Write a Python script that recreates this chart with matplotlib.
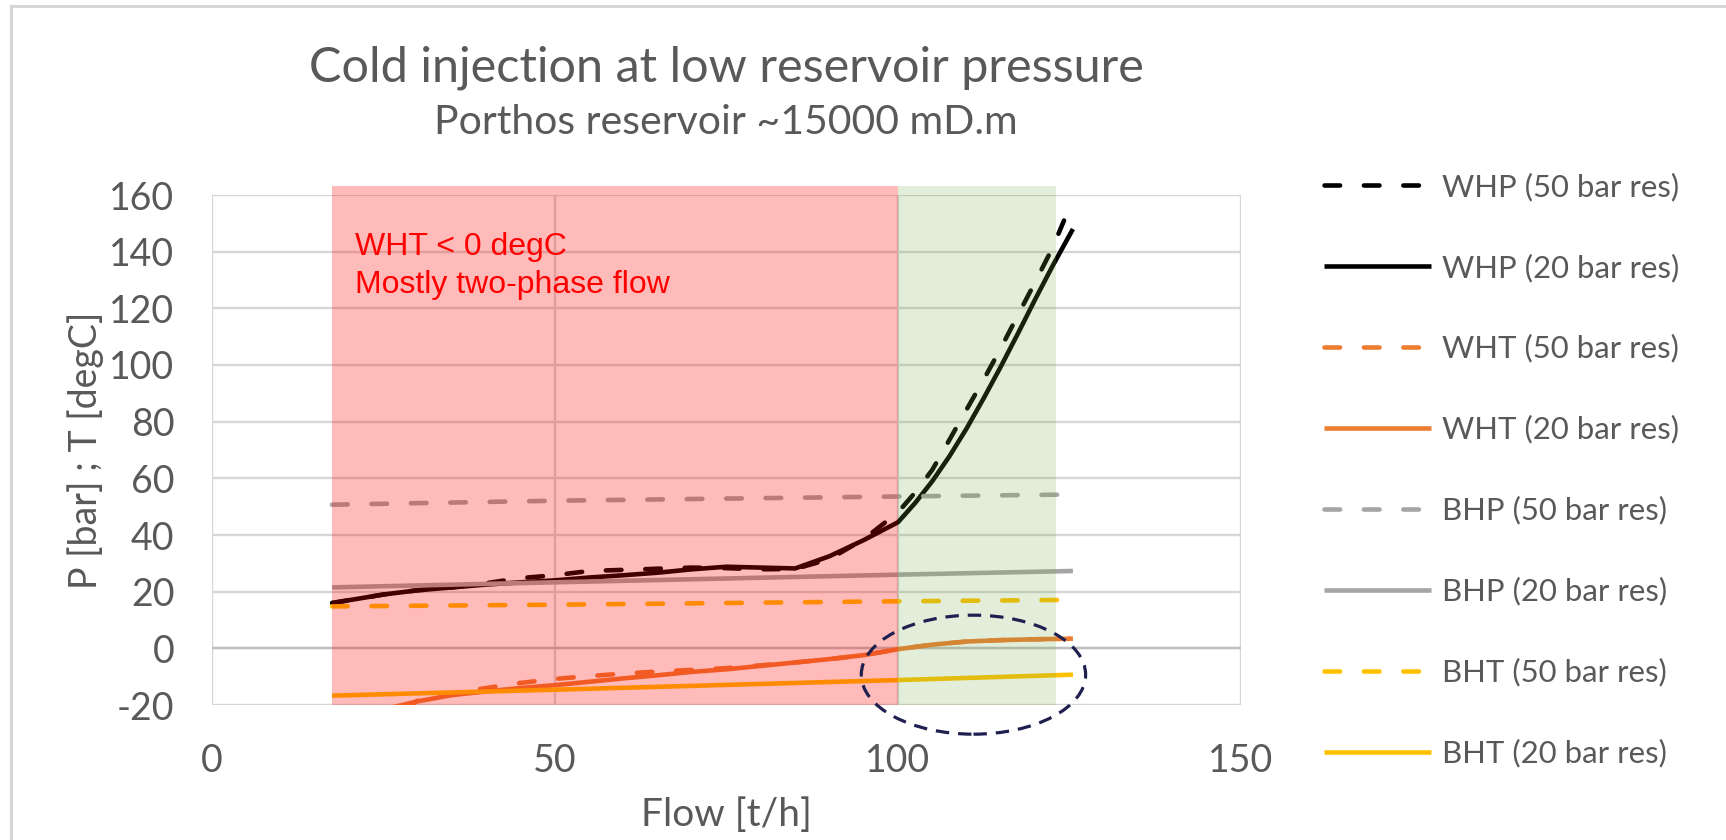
#!/usr/bin/env python3
# -*- coding: utf-8 -*-
"""Cold injection at low reservoir pressure: WHP/WHT/BHP/BHT vs flow."""
import matplotlib
matplotlib.use("Agg")
import matplotlib.pyplot as plt
from matplotlib.lines import Line2D
from matplotlib.patches import Ellipse

# --- data --------------------------------------------------------------
flow_whp = [17.5, 20, 25, 30, 35, 40, 45, 50, 55, 60, 65, 70, 75, 80, 85,
            90, 95, 100, 102.5, 105, 107.5, 110, 112.5, 115, 117.5, 120,
            122.5, 125.5]
whp_20 = [16, 17, 19, 20.5, 21.5, 22.5, 23.3, 24, 25, 25.8, 26.7, 27.9,
          28.8, 28.5, 28.2, 32.5, 38.2, 44.5, 51.3, 59.0, 67.8, 77.6, 88.3,
          99.5, 111.2, 123.2, 134.8, 148]
flow_whp50 = [17.5, 20, 25, 30, 35, 40, 45, 50, 55, 60, 65, 70, 75, 80, 85,
              90, 95, 100, 102.5, 105, 107.5, 110, 112.5, 115, 117.5, 120,
              122.5, 124.2]
whp_50 = [16, 17, 19, 20.5, 21.5, 23, 24.8, 25.8, 27.3, 27.7, 28.1, 28.5,
          28.3, 27.9, 28, 31.5, 38.5, 48, 55, 63, 73.6, 84.3, 94.9, 106,
          117.7, 129.3, 141.2, 151]

flow_wht20 = [26, 30, 35, 40, 45, 50, 55, 60, 65, 70, 75, 80, 85, 90, 95,
              100, 105, 110, 115, 120, 125.5]
wht_20 = [-21, -18.7, -16.5, -15.2, -14, -13, -11.8, -10.6, -9.5, -8.3,
          -7.4, -6.2, -5, -3.8, -2.4, -0.3, 1.3, 2.4, 2.9, 3.2, 3.4]
flow_wht50 = [28, 30, 35, 40, 45, 50, 55, 60, 65, 70, 75, 80, 85, 90, 95,
              100, 105, 110, 115, 120, 125]
wht_50 = [-21, -18.5, -15.8, -14, -12.2, -10.8, -9.8, -8.9, -8.2, -7.6, -7,
          -6, -5, -3.8, -2.4, -0.3, 1.3, 2.4, 2.9, 3.2, 3.4]

flow_bh = [17.5, 50, 100, 125.5]
bhp_50 = [50.7, 52.1, 53.6, 54.3]
bhp_20 = [21.5, 23.3, 26.0, 27.3]
bht_50 = [14.8, 15.4, 16.6, 17.1]
bht_20 = [-16.7, -14.6, -11.2, -9.3]

labels = ["WHP (50 bar res)", "WHP (20 bar res)", "WHT (50 bar res)",
          "WHT (20 bar res)", "BHP (50 bar res)", "BHP (20 bar res)",
          "BHT (50 bar res)", "BHT (20 bar res)"]

x_ticks = [0, 50, 100, 150]
y_ticks = [-20, 0, 20, 40, 60, 80, 100, 120, 140, 160]

two_phase_zone = (17.5, 100)
ok_zone = (100, 123)

# --- style ---------------------------------------------------------------
plt.rcParams["font.family"] = ["Lato", "DejaVu Sans"]
plt.rcParams["axes.unicode_minus"] = False
GREY_TXT = "#595959"
GRID = "#d6d6d6"
C_BLACK = "#000000"
C_ORANGE = "#ed7d31"
C_GREY = "#a5a5a5"
C_GOLD = "#ffc000"
LW = 3.3
DASH = (0, (3.4, 5.2))

fig = plt.figure(figsize=(17.26, 8.40), dpi=100)
axe = fig.add_axes([212 / 1726, 1 - 705 / 840, 1029 / 1726, 510 / 840])

series = [
    (flow_whp50, whp_50, C_BLACK, DASH),
    (flow_whp, whp_20, C_BLACK, "-"),
    (flow_wht50, wht_50, C_ORANGE, DASH),
    (flow_wht20, wht_20, C_ORANGE, "-"),
    (flow_bh, bhp_50, C_GREY, DASH),
    (flow_bh, bhp_20, C_GREY, "-"),
    (flow_bh, bht_50, C_GOLD, DASH),
    (flow_bh, bht_20, C_GOLD, "-"),
]
handles = []
for (x, y, color, style), label in zip(series, labels):
    line, = axe.plot(x, y, color=color, linestyle=style, linewidth=LW,
                     dash_capstyle="round", solid_capstyle="butt",
                     label=label, zorder=2)
    handles.append(line)

# translucent zones drawn on top of the curves, as in the original
y_top = (163.2 + 20) / 180
red = axe.axvspan(*two_phase_zone, ymin=0, ymax=y_top, color="#ff0000",
                  alpha=0.27, linewidth=0, zorder=3)
green = axe.axvspan(*ok_zone, ymin=0, ymax=y_top, color="#70ad47",
                    alpha=0.2, linewidth=0, zorder=3)
red.set_clip_on(False)
green.set_clip_on(False)

axe.text(20.8, 135, "WHT < 0 degC\nMostly two-phase flow", color="#ff0000",
         fontsize=23, family=["Liberation Sans", "DejaVu Sans"],
         ha="left", va="center", linespacing=1.35, zorder=5)

circle = Ellipse((111, -9.3), 32.7, 42, fill=False, edgecolor="#1f2050",
                 linewidth=2.3, linestyle=(0, (4.2, 2.8)), zorder=4,
                 clip_on=False)
axe.add_patch(circle)

axe.set_xlim(0, 150)
axe.set_ylim(-20, 160)
axe.set_xticks(x_ticks)
axe.set_yticks(y_ticks)
axe.tick_params(length=0, labelsize=27, labelcolor=GREY_TXT, pad=27)
axe.grid(True, color=GRID, linewidth=1.7, zorder=0)
axe.set_axisbelow(True)
axe.axhline(0, color="#bfbfbf", linewidth=1.7, zorder=1)
for spine in axe.spines.values():
    spine.set_visible(False)

axe.set_xlabel("Flow [t/h]", fontsize=28, color=GREY_TXT, va="center")
axe.set_ylabel("P [bar] ; T [degC]", fontsize=27, color=GREY_TXT)
axe.xaxis.set_label_coords(0.5, -0.216)
axe.yaxis.set_label_coords(-0.105, 0.5)

fig.text(726 / 1726, 1 - 68 / 840, "Cold injection at low reservoir pressure",
         fontsize=35, color=GREY_TXT, ha="center", va="center")
fig.text(726 / 1726, 1 - 123 / 840, "Porthos reservoir ~15000 mD.m",
         fontsize=29.5, color=GREY_TXT, ha="center", va="center")

fig.legend(handles=handles, loc="center left",
           bbox_to_anchor=(1324 / 1726, 1 - 470 / 840), frameon=False,
           fontsize=22.4, labelcolor=GREY_TXT, handlelength=3.45,
           handletextpad=0.35, labelspacing=1.68, borderpad=0,
           borderaxespad=0)

# outer chart-area border (only top and left edges are visible)
fig.add_artist(Line2D([11 / 1726, 11 / 1726], [0, 1 - 6 / 840],
                      color=GRID, linewidth=2.2))
fig.add_artist(Line2D([11 / 1726, 1], [1 - 6 / 840, 1 - 6 / 840],
                      color=GRID, linewidth=2.2))

fig.savefig("out.png", dpi=100)
